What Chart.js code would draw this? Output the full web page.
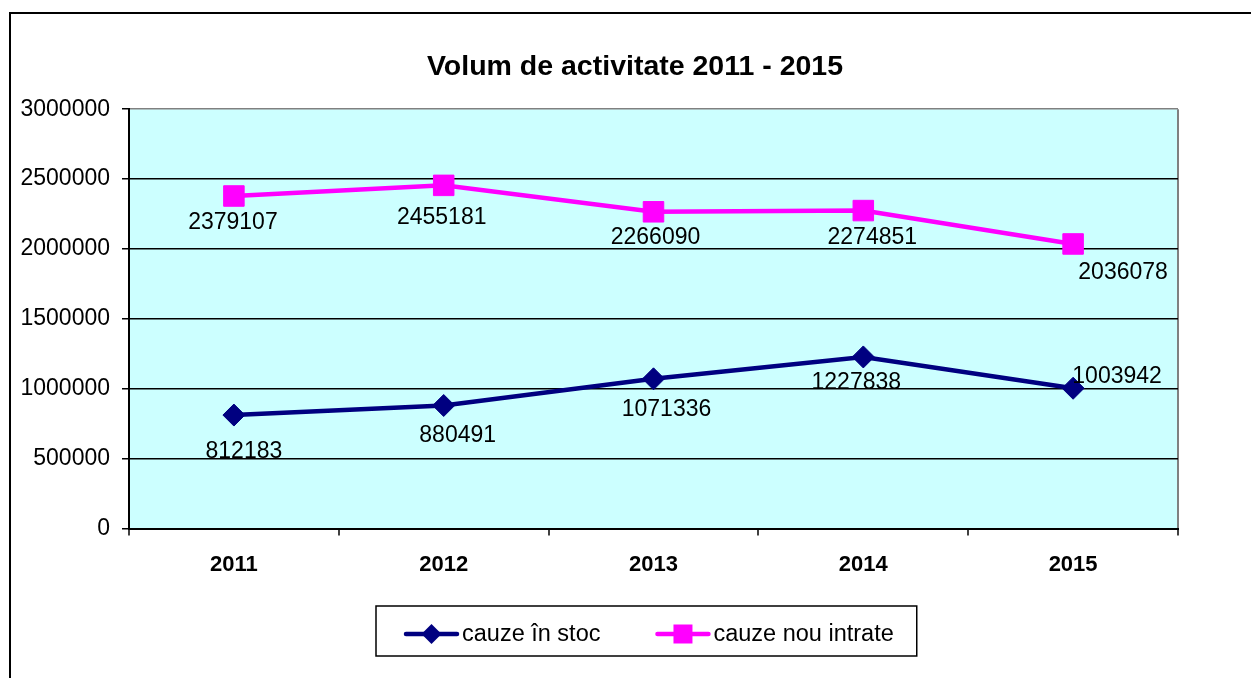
<!DOCTYPE html>
<html>
<head>
<meta charset="utf-8">
<title>Volum de activitate 2011 - 2015</title>
<script src="https://cdn.jsdelivr.net/npm/chart.js@4.4.1/dist/chart.umd.min.js"></script>
<style>
  html, body { margin: 0; padding: 0; background: #fff; overflow: hidden; }
  #frame { position: absolute; left: 9px; top: 12px; width: 1400px; height: 800px; border: 2px solid #000; }
  #chart { position: absolute; left: 0; top: 0; }
</style>
</head>
<body>
<div id="frame"></div>
<canvas id="chart" width="1251" height="678"></canvas>
<script>
const years = ['2011', '2012', '2013', '2014', '2015'];
const stocValues = [812183, 880491, 1071336, 1227838, 1003942];
const intrateValues = [2379107, 2455181, 2266090, 2274851, 2036078];
const seriesNames = ['cauze în stoc', 'cauze nou intrate'];
const yTicks = [0, 500000, 1000000, 1500000, 2000000, 2500000, 3000000];

// where each value label sits relative to its point (px)
const stocLabelOffsets = [[10, 37], [14, 30], [13, 31], [-7, 26], [44, -12]];
const intrateLabelOffsets = [[-1, 27], [-2, 32], [2, 26], [9, 27], [50, 29]];

const FONT = '"Liberation Sans", Arial, sans-serif';
Chart.defaults.font.family = FONT;
Chart.defaults.color = '#000';

// light cyan plot area
const plotBackground = {
	id: 'plotBackground',
	beforeDraw(chart) {
		const { ctx, chartArea: a } = chart;
		ctx.save();
		ctx.fillStyle = '#CCFFFF';
		ctx.fillRect(a.left, a.top, a.right - a.left, a.bottom - a.top);
		ctx.restore();
	}
};

// the title in the original sits a bit right of the canvas centre
const titleShift = {
	id: 'titleShift',
	afterLayout(chart) {
		const t = chart.titleBlock;
		if (t) { t.left += 40; t.right += 40; }
	}
};

// value labels next to every point
const valueLabels = {
	id: 'valueLabels',
	afterDatasetsDraw(chart) {
		const ctx = chart.ctx;
		ctx.save();
		ctx.font = '23px ' + FONT;
		ctx.fillStyle = '#000';
		ctx.textAlign = 'center';
		ctx.textBaseline = 'middle';
		chart.data.datasets.forEach((ds, i) => {
			chart.getDatasetMeta(i).data.forEach((pt, j) => {
				const off = ds.labelOffsets[j];
				ctx.fillText(String(ds.data[j]), pt.x + off[0], pt.y + off[1]);
			});
		});
		ctx.restore();
	}
};

// Excel-style boxed legend: line + marker, then text
const boxLegend = {
	id: 'boxLegend',
	afterDraw(chart) {
		const ctx = chart.ctx;
		const a = chart.chartArea;
		const top = 606, bottom = 656, mid = 634;
		const sym = 55, textGap = 3, itemGap = 55, padL = 28, padR = 23;
		ctx.save();
		ctx.font = '23.5px ' + FONT;
		const dsets = chart.data.datasets;
		const widths = dsets.map(ds => ctx.measureText(ds.label).width);
		let total = padL + padR + itemGap * (dsets.length - 1);
		widths.forEach(w => { total += sym + textGap + w; });
		const center = (a.left + a.right) / 2 - 7;
		const left = Math.round(center - total / 2);

		ctx.strokeStyle = '#000';
		ctx.lineWidth = 1.5;
		ctx.strokeRect(left, top, total, bottom - top);

		let x = left + padL;
		dsets.forEach((ds, i) => {
			ctx.strokeStyle = ds.borderColor;
			ctx.fillStyle = ds.borderColor;
			ctx.lineWidth = ds.borderWidth;
			ctx.lineCap = 'round';
			ctx.beginPath();
			ctx.moveTo(x + 2, mid);
			ctx.lineTo(x + sym - 2, mid);
			ctx.stroke();
			const cx = x + sym / 2;
			ctx.beginPath();
			if (ds.pointStyle === 'rectRot') {
				const r = 10;
				ctx.moveTo(cx - r, mid);
				ctx.lineTo(cx, mid - r);
				ctx.lineTo(cx + r, mid);
				ctx.lineTo(cx, mid + r);
				ctx.closePath();
			} else {
				const h = 9.5;
				ctx.rect(cx - h, mid - h, 2 * h, 2 * h);
			}
			ctx.fill();
			ctx.fillStyle = '#000';
			ctx.textAlign = 'left';
			ctx.textBaseline = 'middle';
			ctx.fillText(ds.label, x + sym + textGap, mid + 1);
			x += sym + textGap + widths[i] + itemGap;
		});
		ctx.restore();
	}
};

new Chart(document.getElementById('chart'), {
	type: 'line',
	data: {
		labels: years,
		datasets: [{
			label: seriesNames[0],
			data: stocValues,
			labelOffsets: stocLabelOffsets,
			borderColor: '#000080',
			backgroundColor: '#000080',
			borderWidth: 4.5,
			tension: 0,
			pointStyle: 'rectRot',
			pointRadius: 11,
			pointBorderWidth: 1,
			pointBackgroundColor: '#000080',
			pointBorderColor: '#000080'
		}, {
			label: seriesNames[1],
			data: intrateValues,
			labelOffsets: intrateLabelOffsets,
			borderColor: '#FF00FF',
			backgroundColor: '#FF00FF',
			borderWidth: 4.5,
			tension: 0,
			pointStyle: 'rect',
			pointRadius: 14.5,
			pointBorderWidth: 1,
			pointBackgroundColor: '#FF00FF',
			pointBorderColor: '#FF00FF'
		}]
	},
	options: {
		responsive: false,
		animation: false,
		layout: { padding: { left: 12, right: 73, top: 0, bottom: 84 } },
		plugins: {
			legend: { display: false },
			tooltip: { enabled: false },
			title: {
				display: true,
				text: 'Volum de activitate 2011 - 2015',
				color: '#000',
				font: { size: 28.5, weight: 'bold' },
				padding: { top: 50, bottom: 25 }
			}
		},
		scales: {
			x: {
				offset: true,
				grid: {
					offset: true,
					color: c => c.tick ? 'rgba(0,0,0,0)' : '#808080',
					lineWidth: 2,
					tickColor: '#000',
					tickLength: 7,
					tickWidth: 1.5
				},
				border: { color: '#000', width: 2 },
				ticks: {
					color: '#000',
					font: { size: 22, weight: 'bold' },
					padding: 16,
					autoSkip: false,
					maxRotation: 0
				}
			},
			y: {
				min: yTicks[0],
				max: yTicks[yTicks.length - 1],
				afterBuildTicks: s => { s.ticks = yTicks.map(v => ({ value: v })); },
				afterFit: s => { s.width = 117; },
				grid: {
					color: c => (c.tick && c.tick.value === yTicks[yTicks.length - 1]) ? '#808080' : '#000',
					lineWidth: 1.5,
					tickColor: '#000',
					tickLength: 7
				},
				border: { color: '#000', width: 2 },
				ticks: {
					color: '#000',
					font: { size: 23 },
					padding: 12,
					callback: v => String(v)
				}
			}
		}
	},
	plugins: [plotBackground, titleShift, valueLabels, boxLegend]
});
</script>
</body>
</html>
